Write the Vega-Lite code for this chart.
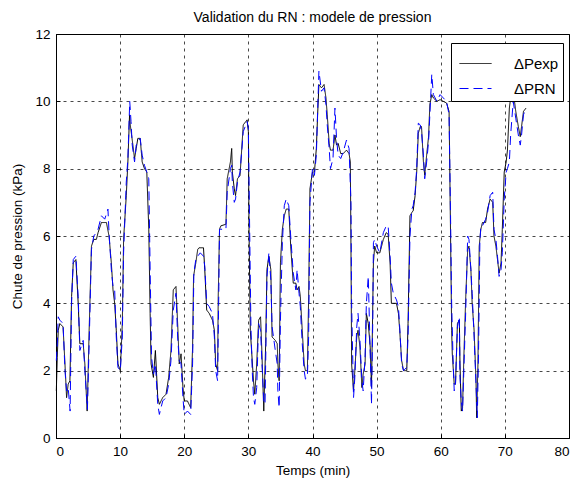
{
  "$schema": "https://vega.github.io/schema/vega-lite/v6.json",
  "width": 513,
  "height": 404,
  "autosize": "none",
  "padding": {"left": 56, "top": 34, "right": 8, "bottom": 48},
  "background": "white",
  "config": {
    "font": "Liberation Sans",
    "view": {"stroke": "black", "strokeWidth": 1},
    "axis": {
      "labelFont": "Liberation Sans", "labelFontSize": 13.5, "labelColor": "black",
      "titleFont": "Liberation Sans", "titleFontSize": 13.5, "titleFontWeight": "normal", "titleColor": "black",
      "domainColor": "black", "tickColor": "black", "tickSize": -4, "labelPadding": 10,
      "grid": true, "gridColor": "black", "gridDash": [3, 4], "gridOpacity": 0.9, "gridWidth": 0.8
    },
    "legend": {
      "fillColor": "white", "strokeColor": "black", "padding": 4,
      "symbolType": "stroke", "symbolSize": 1024, "symbolStrokeWidth": 1, "symbolOffset": 4,
      "labelFont": "Liberation Sans", "labelFontSize": 15, "labelColor": "black",
      "labelOffset": 22, "rowPadding": -4
    }
  },
  "title": {"text": "Validation du RN : modele de pression", "fontSize": 14, "fontWeight": "normal", "font": "Liberation Sans", "color": "black", "offset": 2},
  "data": {"values": [
    {"s":"exp","t":0.05,"v":1.4},{"s":"exp","t":0.2,"v":2.4},{"s":"exp","t":0.35,"v":3.2},{"s":"exp","t":0.6,"v":3.4},{"s":"exp","t":1.1,"v":3.3},{"s":"exp","t":1.4,"v":2.2},{"s":"exp","t":1.65,"v":1.2},{"s":"exp","t":1.9,"v":1.6},{"s":"exp","t":2.17,"v":1.7},{"s":"exp","t":2.43,"v":4.2},{"s":"exp","t":2.69,"v":5.2},{"s":"exp","t":3.1,"v":5.3},{"s":"exp","t":3.46,"v":4.0},{"s":"exp","t":3.72,"v":2.8},{"s":"exp","t":4.24,"v":2.8},{"s":"exp","t":4.5,"v":2.2},{"s":"exp","t":4.86,"v":0.8},{"s":"exp","t":5.17,"v":3.2},{"s":"exp","t":5.53,"v":5.7},{"s":"exp","t":5.89,"v":5.9},{"s":"exp","t":6.3,"v":5.9},{"s":"exp","t":6.56,"v":6.1},{"s":"exp","t":7.08,"v":6.4},{"s":"exp","t":7.86,"v":6.4},{"s":"exp","t":8.27,"v":6.0},{"s":"exp","t":8.63,"v":5.2},{"s":"exp","t":8.89,"v":4.4},{"s":"exp","t":9.15,"v":4.0},{"s":"exp","t":9.4,"v":3.2},{"s":"exp","t":9.66,"v":2.2},{"s":"exp","t":10.03,"v":2.0},{"s":"exp","t":10.34,"v":3.4},{"s":"exp","t":10.54,"v":5.9},{"s":"exp","t":10.96,"v":7.2},{"s":"exp","t":11.21,"v":8.2},{"s":"exp","t":11.47,"v":9.6},{"s":"exp","t":11.58,"v":9.3},{"s":"exp","t":11.89,"v":8.85},{"s":"exp","t":12.25,"v":8.3},{"s":"exp","t":12.51,"v":8.6},{"s":"exp","t":12.76,"v":8.9},{"s":"exp","t":13.13,"v":8.9},{"s":"exp","t":13.44,"v":8.2},{"s":"exp","t":13.8,"v":8.0},{"s":"exp","t":14.16,"v":7.9},{"s":"exp","t":14.47,"v":6.2},{"s":"exp","t":14.68,"v":3.7},{"s":"exp","t":14.83,"v":2.2},{"s":"exp","t":15.19,"v":1.8},{"s":"exp","t":15.5,"v":2.6},{"s":"exp","t":15.87,"v":1.2},{"s":"exp","t":16.12,"v":1.0},{"s":"exp","t":16.64,"v":1.2},{"s":"exp","t":17.16,"v":1.3},{"s":"exp","t":17.57,"v":1.8},{"s":"exp","t":17.93,"v":2.6},{"s":"exp","t":18.29,"v":4.4},{"s":"exp","t":18.71,"v":4.5},{"s":"exp","t":18.97,"v":3.4},{"s":"exp","t":19.22,"v":2.2},{"s":"exp","t":19.5,"v":2.5},{"s":"exp","t":19.8,"v":1.5},{"s":"exp","t":20.0,"v":1.1},{"s":"exp","t":20.5,"v":1.1},{"s":"exp","t":21.0,"v":0.9},{"s":"exp","t":21.3,"v":2.7},{"s":"exp","t":21.45,"v":4.8},{"s":"exp","t":21.8,"v":5.2},{"s":"exp","t":22.1,"v":5.6},{"s":"exp","t":22.3,"v":5.65},{"s":"exp","t":23.0,"v":5.65},{"s":"exp","t":23.2,"v":5.0},{"s":"exp","t":23.5,"v":3.8},{"s":"exp","t":23.9,"v":3.7},{"s":"exp","t":24.4,"v":3.5},{"s":"exp","t":24.7,"v":3.2},{"s":"exp","t":24.9,"v":2.2},{"s":"exp","t":25.2,"v":2.0},{"s":"exp","t":25.3,"v":4.2},{"s":"exp","t":25.5,"v":6.2},{"s":"exp","t":25.7,"v":6.3},{"s":"exp","t":26.5,"v":6.35},{"s":"exp","t":26.7,"v":7.7},{"s":"exp","t":27.2,"v":8.2},{"s":"exp","t":27.4,"v":8.6},{"s":"exp","t":27.5,"v":7.9},{"s":"exp","t":27.8,"v":7.4},{"s":"exp","t":28.0,"v":7.2},{"s":"exp","t":28.3,"v":7.7},{"s":"exp","t":28.7,"v":7.8},{"s":"exp","t":29.0,"v":8.7},{"s":"exp","t":29.2,"v":9.3},{"s":"exp","t":29.6,"v":9.4},{"s":"exp","t":29.8,"v":9.45},{"s":"exp","t":30.0,"v":9.1},{"s":"exp","t":30.1,"v":6.2},{"s":"exp","t":30.3,"v":3.2},{"s":"exp","t":30.5,"v":2.6},{"s":"exp","t":30.8,"v":1.7},{"s":"exp","t":31.0,"v":1.3},{"s":"exp","t":31.3,"v":2.2},{"s":"exp","t":31.6,"v":3.5},{"s":"exp","t":31.9,"v":3.6},{"s":"exp","t":32.1,"v":2.6},{"s":"exp","t":32.4,"v":0.8},{"s":"exp","t":32.7,"v":2.8},{"s":"exp","t":32.9,"v":5.0},{"s":"exp","t":33.2,"v":5.4},{"s":"exp","t":33.5,"v":5.0},{"s":"exp","t":33.7,"v":3.0},{"s":"exp","t":34.2,"v":2.9},{"s":"exp","t":34.5,"v":2.8},{"s":"exp","t":34.6,"v":2.2},{"s":"exp","t":34.8,"v":1.7},{"s":"exp","t":35.0,"v":5.2},{"s":"exp","t":35.3,"v":6.2},{"s":"exp","t":35.6,"v":6.6},{"s":"exp","t":35.9,"v":6.8},{"s":"exp","t":36.3,"v":6.8},{"s":"exp","t":36.6,"v":5.7},{"s":"exp","t":37.0,"v":4.6},{"s":"exp","t":37.4,"v":4.6},{"s":"exp","t":37.6,"v":4.4},{"s":"exp","t":37.9,"v":4.5},{"s":"exp","t":38.1,"v":4.2},{"s":"exp","t":38.4,"v":3.2},{"s":"exp","t":38.7,"v":2.2},{"s":"exp","t":38.9,"v":2.0},{"s":"exp","t":39.2,"v":2.0},{"s":"exp","t":39.4,"v":4.2},{"s":"exp","t":39.6,"v":7.4},{"s":"exp","t":40.0,"v":7.9},{"s":"exp","t":40.3,"v":7.9},{"s":"exp","t":40.6,"v":8.6},{"s":"exp","t":40.8,"v":9.6},{"s":"exp","t":41.0,"v":10.5},{"s":"exp","t":41.4,"v":10.4},{"s":"exp","t":41.8,"v":10.5},{"s":"exp","t":42.1,"v":10.1},{"s":"exp","t":42.3,"v":9.6},{"s":"exp","t":42.6,"v":8.75},{"s":"exp","t":42.8,"v":8.55},{"s":"exp","t":43.2,"v":8.55},{"s":"exp","t":43.5,"v":9.0},{"s":"exp","t":43.75,"v":8.7},{"s":"exp","t":44.0,"v":8.75},{"s":"exp","t":44.4,"v":8.45},{"s":"exp","t":44.8,"v":8.45},{"s":"exp","t":45.3,"v":8.55},{"s":"exp","t":45.7,"v":8.45},{"s":"exp","t":45.9,"v":8.2},{"s":"exp","t":46.0,"v":5.6},{"s":"exp","t":46.1,"v":2.2},{"s":"exp","t":46.4,"v":1.4},{"s":"exp","t":46.6,"v":2.0},{"s":"exp","t":46.9,"v":3.0},{"s":"exp","t":47.1,"v":3.2},{"s":"exp","t":47.4,"v":2.7},{"s":"exp","t":47.7,"v":1.5},{"s":"exp","t":47.9,"v":1.9},{"s":"exp","t":48.2,"v":2.2},{"s":"exp","t":48.4,"v":3.7},{"s":"exp","t":48.7,"v":3.4},{"s":"exp","t":49.0,"v":2.7},{"s":"exp","t":49.2,"v":1.5},{"s":"exp","t":49.5,"v":5.2},{"s":"exp","t":49.7,"v":5.7},{"s":"exp","t":50.0,"v":5.5},{"s":"exp","t":50.5,"v":5.5},{"s":"exp","t":51.05,"v":5.9},{"s":"exp","t":51.5,"v":6.1},{"s":"exp","t":51.8,"v":6.05},{"s":"exp","t":52.1,"v":5.2},{"s":"exp","t":52.3,"v":4.0},{"s":"exp","t":52.6,"v":4.0},{"s":"exp","t":53.1,"v":4.0},{"s":"exp","t":53.4,"v":3.7},{"s":"exp","t":53.6,"v":3.2},{"s":"exp","t":53.9,"v":2.3},{"s":"exp","t":54.2,"v":2.0},{"s":"exp","t":54.7,"v":2.0},{"s":"exp","t":54.9,"v":3.4},{"s":"exp","t":55.2,"v":6.6},{"s":"exp","t":55.5,"v":6.7},{"s":"exp","t":55.7,"v":6.75},{"s":"exp","t":56.0,"v":7.2},{"s":"exp","t":56.25,"v":7.9},{"s":"exp","t":56.5,"v":9.05},{"s":"exp","t":56.8,"v":9.25},{"s":"exp","t":57.0,"v":9.25},{"s":"exp","t":57.3,"v":8.2},{"s":"exp","t":57.5,"v":7.8},{"s":"exp","t":57.8,"v":8.4},{"s":"exp","t":58.1,"v":8.95},{"s":"exp","t":58.3,"v":9.9},{"s":"exp","t":58.6,"v":10.2},{"s":"exp","t":58.85,"v":10.1},{"s":"exp","t":59.4,"v":10.0},{"s":"exp","t":59.9,"v":10.05},{"s":"exp","t":60.4,"v":10.0},{"s":"exp","t":60.9,"v":9.95},{"s":"exp","t":61.3,"v":9.7},{"s":"exp","t":61.5,"v":6.5},{"s":"exp","t":61.7,"v":3.2},{"s":"exp","t":61.8,"v":2.5},{"s":"exp","t":62.1,"v":1.6},{"s":"exp","t":62.3,"v":1.6},{"s":"exp","t":62.6,"v":3.4},{"s":"exp","t":62.9,"v":3.5},{"s":"exp","t":63.0,"v":2.2},{"s":"exp","t":63.2,"v":0.8},{"s":"exp","t":63.4,"v":0.9},{"s":"exp","t":63.6,"v":2.4},{"s":"exp","t":63.9,"v":4.2},{"s":"exp","t":64.2,"v":5.6},{"s":"exp","t":64.4,"v":5.7},{"s":"exp","t":64.7,"v":5.0},{"s":"exp","t":64.9,"v":4.0},{"s":"exp","t":65.2,"v":3.2},{"s":"exp","t":65.5,"v":1.7},{"s":"exp","t":65.6,"v":0.6},{"s":"exp","t":65.8,"v":2.2},{"s":"exp","t":66.0,"v":5.7},{"s":"exp","t":66.25,"v":6.2},{"s":"exp","t":66.5,"v":6.4},{"s":"exp","t":67.0,"v":6.4},{"s":"exp","t":67.3,"v":6.8},{"s":"exp","t":67.7,"v":7.1},{"s":"exp","t":68.1,"v":7.0},{"s":"exp","t":68.3,"v":6.0},{"s":"exp","t":68.6,"v":5.7},{"s":"exp","t":68.85,"v":5.3},{"s":"exp","t":69.1,"v":4.9},{"s":"exp","t":69.4,"v":5.2},{"s":"exp","t":69.6,"v":6.2},{"s":"exp","t":69.9,"v":7.9},{"s":"exp","t":70.2,"v":8.2},{"s":"exp","t":70.4,"v":8.55},{"s":"exp","t":70.7,"v":9.8},{"s":"exp","t":70.9,"v":10.1},{"s":"exp","t":71.3,"v":10.3},{"s":"exp","t":71.7,"v":9.7},{"s":"exp","t":72.1,"v":9.25},{"s":"exp","t":72.4,"v":8.95},{"s":"exp","t":72.6,"v":9.25},{"s":"exp","t":72.9,"v":9.7},{"s":"exp","t":73.3,"v":9.8},
    {"s":"RN","t":0.05,"v":2.3},{"s":"RN","t":0.2,"v":2.8},{"s":"RN","t":0.35,"v":3.6},{"s":"RN","t":0.6,"v":3.5},{"s":"RN","t":1.1,"v":3.4},{"s":"RN","t":1.4,"v":2.0},{"s":"RN","t":1.65,"v":1.4},{"s":"RN","t":1.9,"v":1.5},{"s":"RN","t":2.2,"v":0.8},{"s":"RN","t":2.43,"v":4.0},{"s":"RN","t":2.69,"v":5.3},{"s":"RN","t":3.1,"v":5.4},{"s":"RN","t":3.46,"v":4.2},{"s":"RN","t":3.72,"v":2.6},{"s":"RN","t":4.24,"v":2.9},{"s":"RN","t":4.5,"v":2.0},{"s":"RN","t":4.9,"v":0.85},{"s":"RN","t":5.17,"v":2.8},{"s":"RN","t":5.53,"v":5.6},{"s":"RN","t":5.89,"v":6.0},{"s":"RN","t":6.3,"v":6.1},{"s":"RN","t":6.56,"v":6.2},{"s":"RN","t":7.08,"v":6.6},{"s":"RN","t":7.6,"v":6.5},{"s":"RN","t":8.1,"v":6.8},{"s":"RN","t":8.27,"v":6.1},{"s":"RN","t":8.63,"v":5.0},{"s":"RN","t":8.89,"v":4.5},{"s":"RN","t":9.15,"v":4.4},{"s":"RN","t":9.4,"v":3.0},{"s":"RN","t":9.66,"v":2.1},{"s":"RN","t":10.03,"v":2.0},{"s":"RN","t":10.34,"v":3.0},{"s":"RN","t":10.54,"v":5.5},{"s":"RN","t":10.96,"v":7.6},{"s":"RN","t":11.21,"v":8.3},{"s":"RN","t":11.5,"v":10.0},{"s":"RN","t":11.7,"v":9.4},{"s":"RN","t":11.89,"v":8.7},{"s":"RN","t":12.25,"v":8.2},{"s":"RN","t":12.51,"v":8.7},{"s":"RN","t":12.76,"v":8.8},{"s":"RN","t":13.13,"v":8.9},{"s":"RN","t":13.44,"v":8.4},{"s":"RN","t":13.8,"v":8.1},{"s":"RN","t":14.16,"v":7.9},{"s":"RN","t":14.47,"v":7.7},{"s":"RN","t":14.68,"v":5.0},{"s":"RN","t":14.9,"v":2.4},{"s":"RN","t":15.19,"v":1.9},{"s":"RN","t":15.5,"v":2.2},{"s":"RN","t":15.87,"v":1.0},{"s":"RN","t":16.12,"v":0.7},{"s":"RN","t":16.64,"v":1.1},{"s":"RN","t":17.16,"v":1.2},{"s":"RN","t":17.57,"v":1.6},{"s":"RN","t":17.93,"v":2.3},{"s":"RN","t":18.29,"v":3.8},{"s":"RN","t":18.71,"v":4.3},{"s":"RN","t":18.97,"v":3.0},{"s":"RN","t":19.22,"v":2.3},{"s":"RN","t":19.5,"v":2.2},{"s":"RN","t":19.8,"v":1.2},{"s":"RN","t":20.0,"v":0.7},{"s":"RN","t":20.5,"v":0.8},{"s":"RN","t":21.0,"v":0.7},{"s":"RN","t":21.3,"v":2.2},{"s":"RN","t":21.5,"v":4.9},{"s":"RN","t":21.8,"v":5.3},{"s":"RN","t":22.1,"v":5.4},{"s":"RN","t":22.5,"v":5.5},{"s":"RN","t":23.0,"v":5.4},{"s":"RN","t":23.2,"v":5.1},{"s":"RN","t":23.5,"v":4.0},{"s":"RN","t":23.9,"v":3.9},{"s":"RN","t":24.4,"v":3.7},{"s":"RN","t":24.7,"v":3.0},{"s":"RN","t":24.9,"v":2.0},{"s":"RN","t":25.2,"v":1.7},{"s":"RN","t":25.4,"v":4.5},{"s":"RN","t":25.5,"v":6.2},{"s":"RN","t":25.7,"v":6.2},{"s":"RN","t":26.5,"v":6.2},{"s":"RN","t":26.7,"v":7.3},{"s":"RN","t":27.2,"v":8.0},{"s":"RN","t":27.4,"v":8.1},{"s":"RN","t":27.5,"v":7.6},{"s":"RN","t":27.8,"v":7.0},{"s":"RN","t":28.0,"v":7.1},{"s":"RN","t":28.3,"v":7.6},{"s":"RN","t":28.7,"v":7.9},{"s":"RN","t":29.0,"v":8.6},{"s":"RN","t":29.2,"v":9.1},{"s":"RN","t":29.6,"v":9.3},{"s":"RN","t":29.8,"v":9.4},{"s":"RN","t":30.0,"v":9.2},{"s":"RN","t":30.2,"v":6.2},{"s":"RN","t":30.4,"v":3.3},{"s":"RN","t":30.6,"v":2.0},{"s":"RN","t":30.8,"v":1.2},{"s":"RN","t":31.0,"v":1.0},{"s":"RN","t":31.3,"v":1.5},{"s":"RN","t":31.6,"v":3.4},{"s":"RN","t":31.9,"v":3.2},{"s":"RN","t":32.1,"v":2.3},{"s":"RN","t":32.4,"v":1.1},{"s":"RN","t":32.6,"v":1.0},{"s":"RN","t":32.9,"v":4.8},{"s":"RN","t":33.2,"v":5.5},{"s":"RN","t":33.5,"v":4.7},{"s":"RN","t":33.7,"v":3.3},{"s":"RN","t":34.2,"v":2.6},{"s":"RN","t":34.5,"v":2.2},{"s":"RN","t":34.6,"v":1.4},{"s":"RN","t":34.8,"v":0.9},{"s":"RN","t":35.0,"v":3.5},{"s":"RN","t":35.3,"v":5.8},{"s":"RN","t":35.6,"v":6.9},{"s":"RN","t":35.9,"v":7.1},{"s":"RN","t":36.3,"v":6.9},{"s":"RN","t":36.6,"v":6.0},{"s":"RN","t":37.0,"v":4.9},{"s":"RN","t":37.4,"v":4.4},{"s":"RN","t":37.6,"v":5.0},{"s":"RN","t":37.9,"v":4.3},{"s":"RN","t":38.1,"v":3.9},{"s":"RN","t":38.4,"v":2.8},{"s":"RN","t":38.7,"v":2.0},{"s":"RN","t":38.9,"v":1.75},{"s":"RN","t":39.2,"v":1.8},{"s":"RN","t":39.4,"v":3.0},{"s":"RN","t":39.6,"v":7.0},{"s":"RN","t":40.0,"v":8.0},{"s":"RN","t":40.3,"v":7.8},{"s":"RN","t":40.6,"v":8.4},{"s":"RN","t":40.8,"v":9.7},{"s":"RN","t":41.0,"v":10.9},{"s":"RN","t":41.4,"v":10.3},{"s":"RN","t":41.8,"v":10.4},{"s":"RN","t":42.1,"v":9.9},{"s":"RN","t":42.3,"v":9.3},{"s":"RN","t":42.6,"v":8.6},{"s":"RN","t":42.8,"v":8.0},{"s":"RN","t":43.2,"v":8.3},{"s":"RN","t":43.5,"v":9.8},{"s":"RN","t":43.75,"v":8.9},{"s":"RN","t":44.0,"v":8.4},{"s":"RN","t":44.4,"v":8.3},{"s":"RN","t":44.8,"v":8.5},{"s":"RN","t":45.3,"v":8.85},{"s":"RN","t":45.7,"v":8.6},{"s":"RN","t":46.0,"v":7.0},{"s":"RN","t":46.1,"v":4.0},{"s":"RN","t":46.4,"v":1.2},{"s":"RN","t":46.6,"v":1.8},{"s":"RN","t":46.9,"v":3.3},{"s":"RN","t":47.1,"v":3.7},{"s":"RN","t":47.4,"v":2.9},{"s":"RN","t":47.7,"v":1.7},{"s":"RN","t":47.9,"v":1.4},{"s":"RN","t":48.2,"v":2.4},{"s":"RN","t":48.4,"v":4.0},{"s":"RN","t":48.7,"v":4.8},{"s":"RN","t":49.0,"v":2.5},{"s":"RN","t":49.2,"v":1.0},{"s":"RN","t":49.4,"v":3.5},{"s":"RN","t":49.5,"v":5.8},{"s":"RN","t":49.7,"v":5.9},{"s":"RN","t":50.0,"v":5.7},{"s":"RN","t":50.5,"v":5.5},{"s":"RN","t":51.05,"v":6.1},{"s":"RN","t":51.5,"v":6.3},{"s":"RN","t":51.8,"v":6.3},{"s":"RN","t":52.1,"v":5.4},{"s":"RN","t":52.3,"v":4.6},{"s":"RN","t":52.6,"v":4.3},{"s":"RN","t":53.1,"v":4.1},{"s":"RN","t":53.4,"v":3.9},{"s":"RN","t":53.6,"v":3.3},{"s":"RN","t":53.9,"v":2.2},{"s":"RN","t":54.2,"v":2.0},{"s":"RN","t":54.7,"v":2.1},{"s":"RN","t":54.9,"v":3.0},{"s":"RN","t":55.2,"v":6.0},{"s":"RN","t":55.5,"v":6.8},{"s":"RN","t":55.7,"v":6.9},{"s":"RN","t":56.0,"v":7.3},{"s":"RN","t":56.25,"v":8.0},{"s":"RN","t":56.5,"v":9.35},{"s":"RN","t":56.8,"v":9.3},{"s":"RN","t":57.0,"v":9.1},{"s":"RN","t":57.3,"v":8.4},{"s":"RN","t":57.5,"v":7.7},{"s":"RN","t":57.8,"v":8.2},{"s":"RN","t":58.1,"v":8.8},{"s":"RN","t":58.3,"v":9.6},{"s":"RN","t":58.6,"v":10.8},{"s":"RN","t":58.85,"v":10.2},{"s":"RN","t":59.4,"v":10.0},{"s":"RN","t":59.9,"v":10.2},{"s":"RN","t":60.4,"v":10.1},{"s":"RN","t":60.9,"v":10.0},{"s":"RN","t":61.3,"v":9.6},{"s":"RN","t":61.5,"v":7.0},{"s":"RN","t":61.7,"v":4.0},{"s":"RN","t":61.9,"v":2.5},{"s":"RN","t":62.1,"v":1.4},{"s":"RN","t":62.3,"v":1.6},{"s":"RN","t":62.6,"v":3.3},{"s":"RN","t":62.9,"v":3.6},{"s":"RN","t":63.0,"v":1.8},{"s":"RN","t":63.2,"v":1.1},{"s":"RN","t":63.4,"v":0.8},{"s":"RN","t":63.6,"v":2.0},{"s":"RN","t":63.9,"v":3.8},{"s":"RN","t":64.2,"v":6.0},{"s":"RN","t":64.4,"v":5.9},{"s":"RN","t":64.7,"v":5.0},{"s":"RN","t":64.9,"v":4.3},{"s":"RN","t":65.2,"v":3.0},{"s":"RN","t":65.5,"v":1.6},{"s":"RN","t":65.7,"v":0.6},{"s":"RN","t":65.9,"v":2.6},{"s":"RN","t":66.1,"v":5.8},{"s":"RN","t":66.25,"v":6.3},{"s":"RN","t":66.5,"v":6.3},{"s":"RN","t":67.0,"v":6.5},{"s":"RN","t":67.3,"v":6.7},{"s":"RN","t":67.7,"v":7.2},{"s":"RN","t":68.1,"v":7.3},{"s":"RN","t":68.3,"v":6.2},{"s":"RN","t":68.6,"v":5.9},{"s":"RN","t":68.85,"v":5.4},{"s":"RN","t":69.1,"v":4.8},{"s":"RN","t":69.4,"v":5.0},{"s":"RN","t":69.6,"v":5.5},{"s":"RN","t":69.9,"v":7.1},{"s":"RN","t":70.2,"v":7.9},{"s":"RN","t":70.4,"v":8.0},{"s":"RN","t":70.7,"v":8.2},{"s":"RN","t":70.9,"v":9.0},{"s":"RN","t":71.3,"v":10.0},{"s":"RN","t":71.7,"v":9.5},{"s":"RN","t":72.1,"v":9.0},{"s":"RN","t":72.4,"v":8.7},{"s":"RN","t":72.6,"v":9.0},{"s":"RN","t":72.9,"v":9.6},{"s":"RN","t":73.3,"v":9.8}
  ]},
  "mark": {"type": "line", "strokeWidth": 1, "interpolate": "linear"},
  "encoding": {
    "x": {"field": "t", "type": "quantitative", "scale": {"domain": [0, 80], "nice": false},
          "axis": {"values": [0,10,20,30,40,50,60,70,80], "title": "Temps (min)", "titlePadding": 6}},
    "y": {"field": "v", "type": "quantitative", "scale": {"domain": [0, 12], "nice": false},
          "axis": {"values": [0,2,4,6,8,10,12], "title": "Chute de pression (kPa)", "titlePadding": 10}},
    "color": {"field": "s", "type": "nominal", "sort": ["exp", "RN"],
              "scale": {"domain": ["exp", "RN"], "range": ["black", "#0000ff"]},
              "legend": {"title": null, "orient": "none", "legendX": 395, "legendY": 9,
                         "labelExpr": "'ΔP' + datum.label"}},
    "strokeDash": {"field": "s", "type": "nominal", "sort": ["exp", "RN"],
                   "scale": {"domain": ["exp", "RN"], "range": [[1, 0], [9, 5]]},
                   "legend": {"title": null, "orient": "none", "legendX": 395, "legendY": 9,
                              "labelExpr": "'ΔP' + datum.label"}},
    "order": {"field": "t", "type": "quantitative"}
  }
}
